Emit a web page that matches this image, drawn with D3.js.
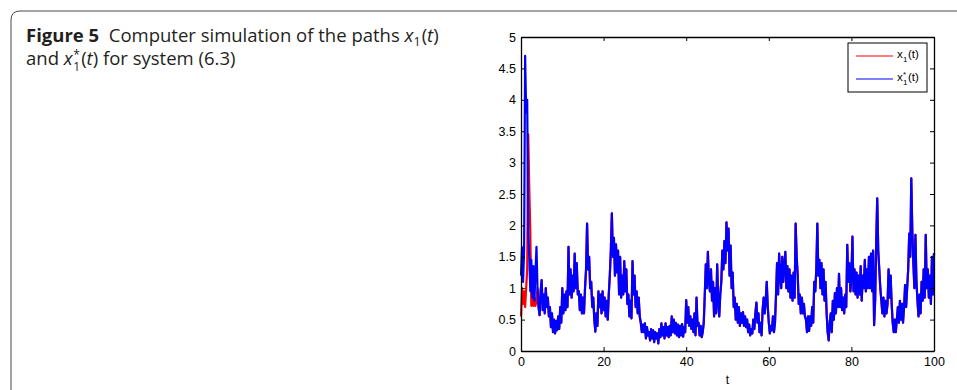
<!DOCTYPE html>
<html>
<head>
<meta charset="utf-8">
<script src="https://cdn.jsdelivr.net/npm/d3@7"></script>
<style>
  body { margin: 0; background: #fff; }
  svg { display: block; }
</style>
</head>
<body>
<div id="chart"></div>
<script>
const tStep = 0.25;
const xTicks = [0, 20, 40, 60, 80, 100];
const yTicks = [0, 0.5, 1, 1.5, 2, 2.5, 3, 3.5, 4, 4.5, 5];

// x1*(t), blue
const starValues = [
  1.2, 1.65, 1.1, 1.6,   4.7, 3.8, 4.0, 1.9,    1.5, 0.95, 1.45, 0.85,  1.35, 0.8, 1.25, 1.66,
  1.0, 0.7, 0.57, 0.95,  1.13, 0.65, 0.9, 0.6,  1.0, 0.7, 0.85, 0.55,   0.7, 0.38, 0.6, 0.3,
  0.5, 0.28, 0.48, 0.33, 0.55, 0.35, 0.7, 0.45, 1.0, 0.6, 0.9, 0.65,    0.95, 0.7, 1.66, 0.9,
  1.3, 0.85, 1.2, 0.95,  1.55, 1.0, 1.4, 0.9,   0.95, 0.65, 0.9, 0.6,   0.85, 0.6, 1.0, 1.3,
  2.03, 1.3, 1.5, 1.0,   1.1, 0.7, 0.85, 0.5,   0.31, 0.6, 0.4, 0.95,   0.7, 0.9, 0.6, 0.95,
  0.65, 0.85, 0.55, 0.8, 0.5, 0.9, 1.2, 1.6,    2.19, 1.5, 1.8, 1.2,    1.7, 1.25, 1.6, 0.9,
  1.5, 0.85, 1.2, 0.9,   1.43, 0.95, 1.3, 0.75, 0.9, 0.55, 0.8, 0.52,   1.43, 0.9, 1.2, 0.7,
  0.95, 0.6, 0.85, 0.55, 0.45, 0.3, 0.42, 0.3,  0.44, 0.2, 0.38, 0.25,  0.3, 0.17, 0.35, 0.2,
  0.33, 0.14, 0.3, 0.2,  0.28, 0.12, 0.35, 0.22, 0.44, 0.25, 0.38, 0.2, 0.44, 0.25, 0.38, 0.22,
  0.4, 0.25, 0.55, 0.3,  0.5, 0.28, 0.45, 0.25, 0.42, 0.22, 0.4, 0.25,  0.43, 0.23, 0.38, 0.3,
  0.81, 0.45, 0.7, 0.4,  0.55, 0.35, 0.5, 0.3,  0.6, 0.25, 0.85, 0.4,   0.45, 0.25, 0.4, 0.22,
  0.3, 0.45, 0.9, 1.38,  1.0, 1.58, 1.1, 0.95,  1.3, 0.8, 1.1, 0.55,    1.0, 0.6, 1.38, 0.8,
  0.55, 0.9, 1.1, 1.6,   1.3, 1.75, 1.4, 2.05,  1.6, 1.95, 1.2, 1.68,   1.0, 1.25, 0.7, 0.85,
  0.5, 0.75, 0.45, 0.7,  0.4, 0.6, 0.45, 0.62,  0.4, 0.55, 0.38, 0.5,   0.3, 0.42, 0.25, 0.35,
  0.28, 0.5, 0.35, 0.6,  0.77, 0.45, 0.6, 0.3,  0.45, 0.25, 0.65, 0.85, 0.6, 0.8, 1.1, 0.7,
  0.45, 0.28, 0.4, 0.33, 0.55, 0.3, 0.45, 0.9,  1.4, 0.9, 1.55, 1.2,    1.0, 1.5, 1.1, 1.35,
  1.58, 1.0, 1.35, 0.95, 1.3, 0.85, 1.2, 0.8,   1.25, 0.85, 2.03, 1.5,  1.2, 0.75, 0.9, 0.6,
  0.85, 0.6, 0.75, 0.55, 0.5, 0.3, 0.55, 0.32,  0.55, 0.4, 0.7, 0.45,   1.1, 0.95, 1.3, 2.03,
  1.2, 1.45, 1.0, 1.4,   0.9, 1.3, 0.8, 1.1,    0.6, 0.3, 0.17, 0.45,   0.6, 0.3, 0.8, 0.5,
  0.92, 0.6, 1.0, 0.7,   1.23, 0.7, 1.0, 0.65,  0.85, 0.6, 0.9, 0.7,    1.69, 1.1, 1.4, 0.95,
  1.2, 1.82, 0.95, 1.3,  0.9, 1.25, 0.85, 1.2,  0.9, 1.35, 0.8, 1.2,    1.0, 1.45, 0.95, 1.3,
  1.0, 1.5, 1.0, 1.55,   0.95, 1.6, 0.41, 0.8,  1.7, 2.43, 1.6, 1.3,    1.0, 0.8, 0.6, 0.85,
  0.55, 0.8, 0.6, 0.75,  1.3, 0.85, 1.2, 0.75,  0.45, 0.3, 0.5, 0.3,    0.5, 0.7, 0.45, 0.8,
  0.5, 0.75, 0.45, 0.7,  1.05, 0.7, 1.0, 1.3,   1.87, 1.5, 2.75, 1.9,   1.4, 1.0, 1.85, 1.1,
  0.8, 0.55, 0.9, 0.6,   1.1, 0.8, 1.3, 0.85,   1.85, 1.0, 1.3, 0.85,   1.2, 0.75, 1.5, 0.9,
  1.56
];

// x1(t), red: differs only at the start, then lies under the blue path
const pathHead = [0.55, 1.0, 0.75, 0.95, 0.7, 1.0, 1.3, 3.45, 2.6, 1.9, 0.72, 0.9, 0.72, 0.85, 0.72, 0.8];
const pathValues = pathHead.concat(starValues.slice(pathHead.length));

const captionBold = "Figure 5";

// 2. Dimensions
const dims = {
  width: 957,
  height: 390,
  margin: { top: 37, right: 23, bottom: 39, left: 521 },
};
dims.containerWidth = dims.width - dims.margin.left - dims.margin.right;
dims.containerHeight = dims.height - dims.margin.top - dims.margin.bottom;

// 3. Container
const svg = d3
  .select("#chart")
  .append("svg")
  .attr("width", dims.width)
  .attr("height", dims.height);

// card outline
svg
  .append("path")
  .attr("d", `M11,${dims.height + 5} L11,20 Q11,11 20,11 L${dims.width + 5},11`)
  .attr("fill", "none")
  .attr("stroke", "#4a4a4a")
  .attr("stroke-width", 1);

// caption
const capFont = "'Open Sans', sans-serif";
const capSize = 18.5;
const capColor = "#231f20";
const line1 = svg
  .append("text")
  .attr("x", 26)
  .attr("y", 42)
  .style("font-family", capFont)
  .style("font-size", capSize + "px")
  .attr("fill", capColor);
line1.append("tspan").style("font-weight", "bold").text(captionBold);
line1.append("tspan").attr("xml:space", "preserve").text("  Computer simulation of the paths ");
line1.append("tspan").style("font-style", "italic").text("x");
line1.append("tspan").attr("dy", 4).style("font-size", "12.5px").text("1");
line1.append("tspan").attr("dy", -4).attr("dx", 1).text("(");
line1.append("tspan").style("font-style", "italic").text("t");
line1.append("tspan").text(")");

// second line: x with stacked * and 1, kept in one text element
const line2 = svg
  .append("text")
  .attr("x", 26)
  .attr("y", 65)
  .style("font-family", capFont)
  .style("font-size", capSize + "px")
  .attr("fill", capColor);
line2.append("tspan").text("and ");
line2.append("tspan").style("font-style", "italic").text("x");
const stackX = 26 + line2.node().getComputedTextLength() + 0.5;
line2.append("tspan").attr("x", stackX).attr("dy", -6).style("font-size", "12px").text("*");
line2.append("tspan").attr("x", stackX).attr("dy", 12).style("font-size", "12px").text("1");
line2.append("tspan").attr("x", stackX + 8).attr("dy", -6).text("(");
line2.append("tspan").style("font-style", "italic").text("t");
line2.append("tspan").text(") for system (6.3)");

const container = svg
  .append("g")
  .attr("transform", `translate(${dims.margin.left}, ${dims.margin.top})`);

// 4. Scales
const xScale = d3.scaleLinear().domain([0, 100]).range([0, dims.containerWidth]);
const yScale = d3.scaleLinear().domain([0, 5]).range([dims.containerHeight, 0]);

// 5. Draw
const lineGenerator = d3
  .line()
  .x((d, i) => xScale(i * tStep))
  .y((d) => yScale(d));

container
  .append("path")
  .datum(pathValues)
  .attr("d", lineGenerator)
  .attr("fill", "none")
  .attr("stroke", "#ff0000")
  .attr("stroke-width", 2.2)
  .attr("stroke-linejoin", "round");

container
  .append("path")
  .datum(starValues)
  .attr("d", lineGenerator)
  .attr("fill", "none")
  .attr("stroke", "#0000ff")
  .attr("stroke-width", 2.2)
  .attr("stroke-linejoin", "round");

// 6. Axes (matlab style: boxed, ticks inside)
const axisFont = "'Liberation Sans', Arial, sans-serif";
const fmt = (d) => String(d);

const xAxisGroup = container
  .append("g")
  .attr("transform", `translate(0, ${dims.containerHeight})`)
  .call(d3.axisBottom(xScale).tickValues(xTicks).tickFormat(fmt).tickSizeInner(-4).tickSizeOuter(0).tickPadding(6));
container
  .append("g")
  .call(d3.axisTop(xScale).tickValues(xTicks).tickFormat("").tickSizeInner(-4).tickSizeOuter(0));

const yAxisGroup = container
  .append("g")
  .call(d3.axisLeft(yScale).tickValues(yTicks).tickFormat(fmt).tickSizeInner(-4).tickSizeOuter(0).tickPadding(5));
container
  .append("g")
  .attr("transform", `translate(${dims.containerWidth}, 0)`)
  .call(d3.axisRight(yScale).tickValues(yTicks).tickFormat("").tickSizeInner(-4).tickSizeOuter(0));

container.selectAll(".tick line").attr("stroke", "#000");
container.selectAll(".domain").attr("stroke", "#000").attr("stroke-width", 1.3);
container
  .selectAll(".tick text")
  .attr("fill", "#000")
  .style("font-family", axisFont)
  .style("font-size", "12.5px");

xAxisGroup
  .append("text")
  .attr("x", dims.containerWidth / 2)
  .attr("y", 33)
  .attr("fill", "#000")
  .attr("text-anchor", "middle")
  .style("font-family", axisFont)
  .style("font-size", "12px")
  .text("t");

// Legend
const legend = container.append("g").attr("transform", `translate(${848 - dims.margin.left}, ${43 - dims.margin.top})`);
legend
  .append("rect")
  .attr("width", 79)
  .attr("height", 49)
  .attr("fill", "#fff")
  .attr("stroke", "#000")
  .attr("stroke-width", 1);

const legendItems = [
  { color: "#ff0000", star: false },
  { color: "#0000ff", star: true },
];
legendItems.forEach((item, i) => {
  const y = 13 + i * 23;
  legend
    .append("line")
    .attr("x1", 8)
    .attr("x2", 45)
    .attr("y1", y)
    .attr("y2", y)
    .attr("stroke", item.color)
    .attr("stroke-width", 1.2);
  const g = legend
    .append("g")
    .style("font-family", axisFont)
    .attr("fill", "#000");
  g.append("text").attr("x", 49).attr("y", y + 2).style("font-size", "11.5px").text("x");
  g.append("text").attr("x", 55).attr("y", y + 6).style("font-size", "8px").text("1");
  if (item.star) {
    g.append("text").attr("x", 55).attr("y", y - 2).style("font-size", "8px").text("*");
  }
  g.append("text").attr("x", 60).attr("y", y + 2).style("font-size", "11.5px").text("(t)");
});
</script>
</body>
</html>
